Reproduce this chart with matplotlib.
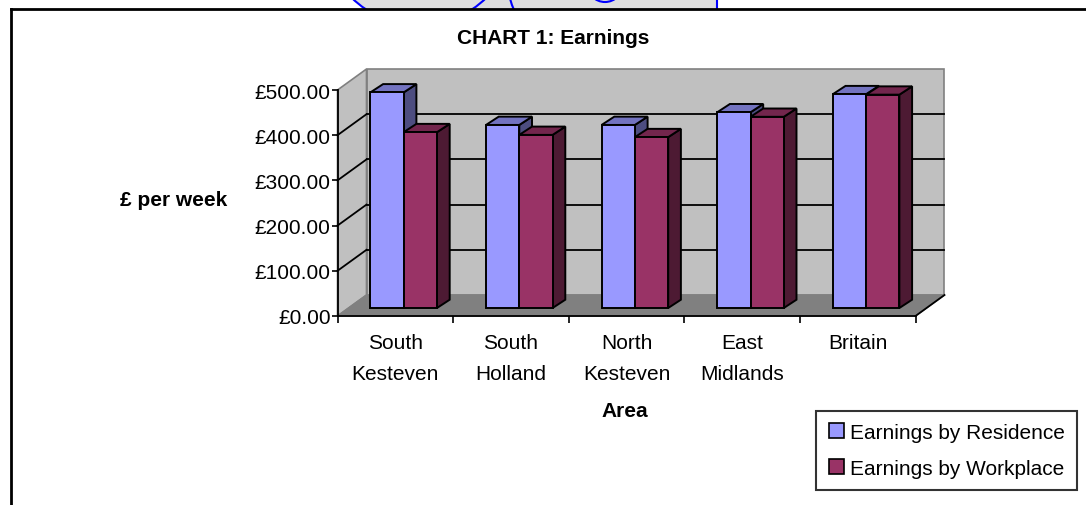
import matplotlib
matplotlib.use("Agg")
import matplotlib.pyplot as plt
from matplotlib.patches import Polygon, Patch, Circle, Rectangle
from matplotlib.lines import Line2D
from matplotlib.transforms import Affine2D

plt.rcParams['font.family'] = ['Liberation Sans', 'DejaVu Sans']

areas = ["South\nKesteven", "South\nHolland", "North\nKesteven", "East\nMidlands", "Britain"]
residence = [477, 405, 405, 433, 473]
workplace = [389, 383, 378, 423, 472]
series_names = ["Earnings by Residence", "Earnings by Workplace"]
y_ticks = [0, 100, 200, 300, 400, 500]

# face colours for each series: front, top, side
colours = [("#9999FF", "#7373C0", "#4D4D80"),
           ("#993366", "#73264D", "#4D1A33")]

FS = 15
W, H = 1086, 506
fig = plt.figure(figsize=(W / 100, H / 100), dpi=100)

# plot area in pixels: front-left corner of floor to back-right of wall
px_left, px_right, px_bottom, px_top = 337.5, 944.0, 317.0, 70.0
cat_px = 115.6      # pixels per category
val_px = 0.452      # pixels per pound
ax = fig.add_axes([px_left / W, 1 - px_bottom / H,
                   (px_right - px_left) / W, (px_bottom - px_top) / H])
ax.set_xlim(0, (px_right - px_left) / cat_px)
ax.set_ylim(0, (px_bottom - px_top) / val_px)
ax.patch.set_visible(False)

n = len(areas)
top_val = y_ticks[-1]
# oblique depth of the walls and of the bars, in data units
dxw, dyw = 29 / cat_px, 21 / val_px
bfx, bfy = 8.4 / cat_px, 8 / val_px
bdx, bdy = 12.7 / cat_px, 8.3 / val_px
bw = 0.288

def poly(pts, fc, ec, lw=1.0, z=1):
    ax.add_patch(Polygon(pts, closed=True, facecolor=fc, edgecolor=ec,
                         linewidth=lw, zorder=z, clip_on=False, joinstyle="miter"))

# walls and floor
poly([(dxw, dyw), (n + dxw, dyw), (n + dxw, top_val + dyw), (dxw, top_val + dyw)],
     "#C0C0C0", "#808080", 1.2)
poly([(0, 0), (dxw, dyw), (dxw, top_val + dyw), (0, top_val)], "#C0C0C0", "#808080", 1.2)
poly([(0, 0), (n, 0), (n + dxw, dyw), (dxw, dyw)], "#808080", "#808080", 1.0)
ax.plot([n, n + dxw], [0, dyw], color="black", lw=1.3, clip_on=False, zorder=1.5)

for v in y_ticks[1:-1]:
    ax.plot([dxw, n + dxw], [v + dyw, v + dyw], color="black", lw=1.3, zorder=1.2, clip_on=False)
    ax.plot([0, dxw], [v, v + dyw], color="black", lw=1.3, zorder=1.2, clip_on=False)

# 3-D columns
z = 3
for i in range(n):
    for j, vals in enumerate([residence, workplace]):
        v = vals[i]
        front, top, side = colours[j]
        x0 = i + 0.5 - bw + j * bw + bfx
        y0 = bfy
        poly([(x0 + bw, y0), (x0 + bw + bdx, y0 + bdy), (x0 + bw + bdx, y0 + v + bdy),
              (x0 + bw, y0 + v)], side, "black", 1.4, z)
        poly([(x0, y0 + v), (x0 + bw, y0 + v), (x0 + bw + bdx, y0 + v + bdy),
              (x0 + bdx, y0 + v + bdy)], top, "black", 1.4, z)
        poly([(x0, y0), (x0 + bw, y0), (x0 + bw, y0 + v), (x0, y0 + v)], front, "black", 1.4, z)
        z += 1

# axes lines and labels
for s in ["top", "right"]:
    ax.spines[s].set_visible(False)
ax.spines["left"].set_bounds(0, top_val)
ax.spines["bottom"].set_bounds(0, n)
for s in ["left", "bottom"]:
    ax.spines[s].set_linewidth(1.3)
    ax.spines[s].set_zorder(2)

ax.set_yticks(y_ticks)
ax.set_yticklabels([f"£{v:.2f}" for v in y_ticks])
ax.tick_params(axis="y", direction="out", length=4, width=1.2, pad=1, labelsize=FS)

ax.set_xticks(range(n + 1))
ax.set_xticklabels([])
ax.set_xticks([i + 0.5 for i in range(n)], minor=True)
ax.set_xticklabels(areas, minor=True, linespacing=1.75)
ax.tick_params(axis="x", which="major", direction="out", length=5, width=1.2)
ax.tick_params(axis="x", which="minor", length=0, pad=12.5, labelsize=FS)

fig.text(553 / W, 1 - 38 / H, "CHART 1: Earnings", ha="center", va="center",
         fontsize=FS, fontweight="bold")
fig.text(174 / W, 1 - 201 / H, "£ per week", ha="center", va="center",
         fontsize=FS, fontweight="bold")
fig.text(625 / W, 1 - 412 / H, "Area", ha="center", va="center",
         fontsize=FS, fontweight="bold")

handles = [Patch(facecolor=colours[k][0], edgecolor="black", linewidth=1.2)
           for k in range(2)]
leg = fig.legend(handles, series_names, loc="upper left",
                 bbox_to_anchor=(816 / W, 1 - 411.7 / H), borderaxespad=0,
                 fontsize=FS, handlelength=0.72, handleheight=0.72,
                 handletextpad=0.3, labelspacing=0.8, borderpad=0.6,
                 fancybox=False, frameon=True)
leg.get_frame().set_edgecolor("black")
leg.get_frame().set_linewidth(1.5)

# strip of the neighbouring drawing above the chart frame, in pixel units
px = Affine2D().scale(1 / W, -1 / H).translate(0, 1) + fig.transFigure
strip_clip = Rectangle((0, -1), W, 10.5, transform=px)
grey_clip = Rectangle((419, -1), 298, 10.5, transform=px)
shapes = [(Rectangle((419, -1), 298, 10.5, facecolor="#DDDDDD", edgecolor="none"), strip_clip),
          (Circle((419, -69.4), 95.8, facecolor="#DDDDDD", edgecolor="blue", lw=1.5), strip_clip),
          (Circle((605, -15), 18, facecolor="none", edgecolor="blue", lw=1.5), strip_clip),
          (Circle((640, -40), 136, facecolor="none", edgecolor="blue", lw=1.5), grey_clip)]
for shape, clip in shapes:
    shape.set_transform(px)
    shape.set_zorder(-2)
    fig.add_artist(shape)
    shape.set_clip_path(clip)
fig.add_artist(Line2D([717, 717], [-1, 10], color="blue", lw=1.5, transform=px, zorder=-2))

# chart frame (top and left edges)
fig.add_artist(Line2D([10.5 / W, 1], [1 - 9.5 / H] * 2, color="black", lw=2))
fig.add_artist(Line2D([10.5 / W] * 2, [0, 1 - 9.5 / H], color="black", lw=2))

fig.savefig("out.png", dpi=100)
